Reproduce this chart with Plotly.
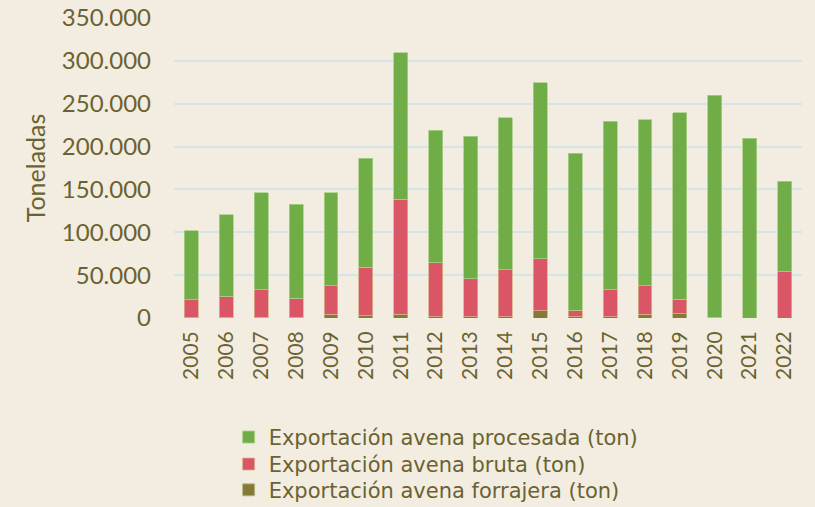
import plotly.graph_objects as go

years = [str(y) for y in range(2005, 2023)]
forrajera = [800, 1000, 1000, 1000, 4100, 2900, 4100, 1500, 1500, 1500, 8400, 1200, 1500, 4100, 5200, 0, 0, 0]
bruta = [20400, 24400, 31800, 22100, 33400, 56300, 134300, 62800, 44200, 54700, 60900, 7900, 31300, 33400, 16700, 1000, 0, 53800]
procesada = [80400, 94800, 113100, 109900, 108400, 127400, 170900, 154500, 166500, 177400, 205100, 182900, 196500, 193800, 217500, 259000, 209900, 106000]

olive = "#6B6232"
fig = go.Figure()
fig.add_trace(go.Bar(x=years, y=forrajera, name="Exportación avena forrajera (ton)", legend="legend3",
                     marker=dict(color="#857A35", line=dict(color="#B5B58A", width=0.8))))
fig.add_trace(go.Bar(x=years, y=bruta, name="Exportación avena bruta (ton)", legend="legend2",
                     marker=dict(color="#DA5565", line=dict(color="#D9B08A", width=0.8))))
fig.add_trace(go.Bar(x=years, y=procesada, name="Exportación avena procesada (ton)", legend="legend",
                     marker=dict(color="#70AD47", line=dict(color="#A9CF8A", width=0.8))))

leg_common = dict(
    orientation="v",
    x=0.087, xanchor="left",
    yanchor="middle",
    font=dict(size=21, color=olive, family="DejaVu Sans"),
    bgcolor="rgba(0,0,0,0)",
    itemwidth=30,
)

fig.update_layout(
    barmode="stack",
    bargap=0.6,
    width=815, height=507,
    margin=dict(l=174, r=13, t=18, b=189, autoexpand=False),
    paper_bgcolor="#F2EDE0",
    plot_bgcolor="#F2EDE0",
    separators=",.",
    font=dict(family="Lato", color=olive),
    showlegend=True,
    legend=dict(leg_common, y=-0.398),
    legend2=dict(leg_common, y=-0.488),
    legend3=dict(leg_common, y=-0.574),
    xaxis=dict(
        tickangle=-90,
        tickfont=dict(size=21, color=olive),
        showgrid=False,
        showline=False,
        ticklabelstandoff=8,
    ),
    yaxis=dict(
        range=[0, 350000],
        dtick=50000,
        tickformat=",d",
        tickfont=dict(size=24, color=olive),
        gridcolor="#D3E5E6",
        gridwidth=1.5,
        zeroline=False,
        showline=False,
        ticklabelstandoff=22,
        title=dict(text="Toneladas", font=dict(size=25, color=olive), standoff=9),
    ),
)
fig.write_html("out.html", config={"displayModeBar": False},
               post_script="document.body.style.margin='0';document.body.style.background='#F2EDE0';")
